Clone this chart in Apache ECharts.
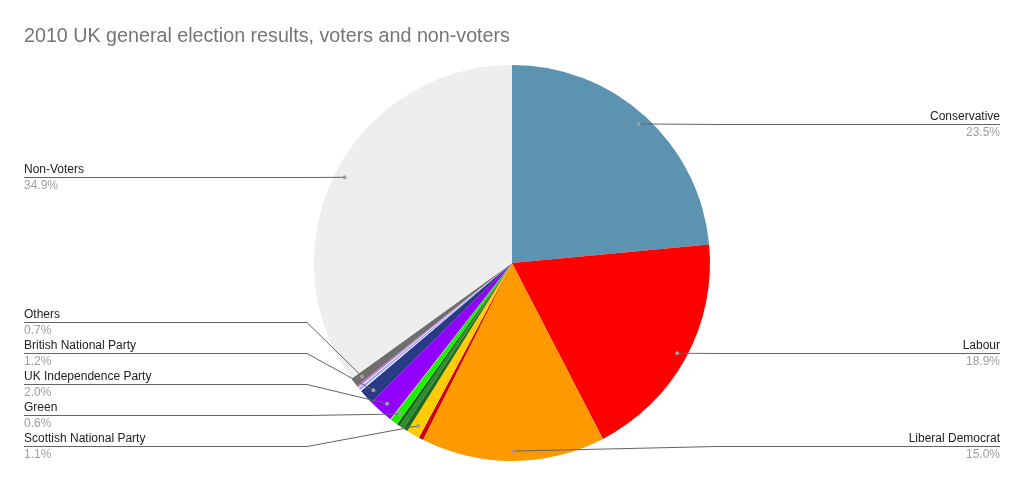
<!DOCTYPE html>
<html>
<head>
<meta charset="utf-8">
<script src="https://cdn.jsdelivr.net/npm/echarts@6/dist/echarts.min.js"></script>
<style>
html,body{margin:0;padding:0;background:#fff;}
#chart{width:1023px;height:486px;}
</style>
</head>
<body>
<div id="chart"></div>
<script>
// ---- data (percent of electorate) ----
const titleText = '2010 UK general election results, voters and non-voters';
const parties = ['Conservative','Labour','Liberal Democrat','Democratic Unionist Party','Scottish National Party','Sinn Féin','Plaid Cymru','Social Democratic and Labour Party','Green','Speaker','UK Independence Party','British National Party','Alliance','Ulster Conservatives and Unionists','Respect','English Democrats','Others','Non-Voters'];
const shares  = [23.47, 18.87, 14.99, 0.37, 1.08, 0.38, 0.36, 0.24, 0.63, 0.05, 2.02, 1.24, 0.09, 0.22, 0.07, 0.14, 0.73, 34.89];
const colours = ['#5b93b0','#ff0000','#ff9900','#cc0000','#ffcc00','#1c6b1c','#2e8b2e','#0f5f0f','#22ee00','#ffffff','#9400ff','#2b3a84','#ffffff','#a0a6ff','#f4f4f4','#c070c0','#6e6e6e','#eeeeee'];
const labelled = ['Conservative','Labour','Liberal Democrat','Scottish National Party','Green','UK Independence Party','British National Party','Others','Non-Voters'];

const CX = 512, CY = 263, R = 198;
const chart = echarts.init(document.getElementById('chart'));

// dot positions (mid-angle of each slice, 0.95 R)
const total = shares.reduce((a,b)=>a+b,0);
let cum = 0;
const info = shares.map((v,i)=>{
  const a0 = cum/total*360; cum += v; const a1 = cum/total*360;
  const mid = (a0+a1)/2*Math.PI/180;
  const rr = R*0.95;
  return {x: CX + rr*Math.sin(mid), y: CY - rr*Math.cos(mid), left: (a0+a1)/2 > 180};
});

// stack labels per side
const GAP = 31, MAXY = 446, MINY = 60;
function stack(idx){
  idx.sort((a,b)=>info[a].y-info[b].y);
  const ys = idx.map(i=>info[i].y);
  for(let k=1;k<ys.length;k++) ys[k] = Math.max(ys[k], ys[k-1]+GAP);
  if (ys.length && ys[ys.length-1] > MAXY) ys[ys.length-1] = MAXY;
  for(let k=ys.length-2;k>=0;k--) ys[k] = Math.min(ys[k], ys[k+1]-GAP);
  for(let k=0;k<ys.length;k++) ys[k] = Math.max(ys[k], MINY);
  idx.forEach((i,k)=>{ info[i].ly = Math.round(ys[k]) + 0.5; });
}
const labIdx = parties.map((p,i)=>i).filter(i=>labelled.includes(parties[i]));
stack(labIdx.filter(i=>info[i].left));
stack(labIdx.filter(i=>!info[i].left));

const LEFTX = 24, RIGHTX = 1000, BEND_L = 307, BEND_R = 717;
function linePts(i){
  const d = info[i];
  if (d.left) return [[d.x, d.y], [Math.min(BEND_L, d.x), d.ly], [LEFTX, d.ly]];
  return [[d.x, d.y], [Math.max(BEND_R, d.x), d.ly], [RIGHTX, d.ly]];
}

const data = parties.map((p,i)=>({
  name: p, value: shares[i],
  itemStyle: {color: colours[i]},
  label: {show: labelled.includes(p)},
  labelLine: {show: false}
}));

const FONT = 'Liberation Sans, Arial, sans-serif';
const option = {
  animation: false,
  backgroundColor: '#ffffff',
  title: {
    text: titleText, left: 24, top: 27, padding: 0,
    textStyle: {fontFamily: FONT, fontSize: 19.7, fontWeight: 'normal', color: '#757575'}
  },
  series: [{
    type: 'pie',
    center: [CX, CY], radius: R,
    startAngle: 90, clockwise: true,
    avoidLabelOverlap: false,
    itemStyle: {borderWidth: 0},
    emphasis: {disabled: true},
    label: {
      position: 'outside',
      formatter: (p)=>'{n|' + p.name + '}\n{v|' + p.value.toFixed(1) + '%}',
      rich: {
        n: {fontFamily: FONT, fontSize: 12, color: '#222222', lineHeight: 16},
        v: {fontFamily: FONT, fontSize: 12, color: '#9e9e9e', lineHeight: 16}
      }
    },
    labelLine: {show: false},
    labelLayout: function(params){
      const d = info[params.dataIndex];
      if (d.ly === undefined) return {};
      return d.left
        ? {x: LEFTX, y: d.ly, align: 'left', verticalAlign: 'middle'}
        : {x: RIGHTX, y: d.ly, align: 'right', verticalAlign: 'middle'};
    },
    data: data
  }],
  graphic: labIdx.map(i=>({
    type: 'polyline', z: 100,
    shape: {points: linePts(i)},
    style: {stroke: '#636363', lineWidth: 1, fill: null}
  })).concat(labIdx.map(i=>({
    type: 'circle', z: 101,
    shape: {cx: info[i].x, cy: info[i].y, r: 2},
    style: {fill: '#9e9e9e', stroke: null}
  })))
};
chart.setOption(option);
</script>
</body>
</html>
